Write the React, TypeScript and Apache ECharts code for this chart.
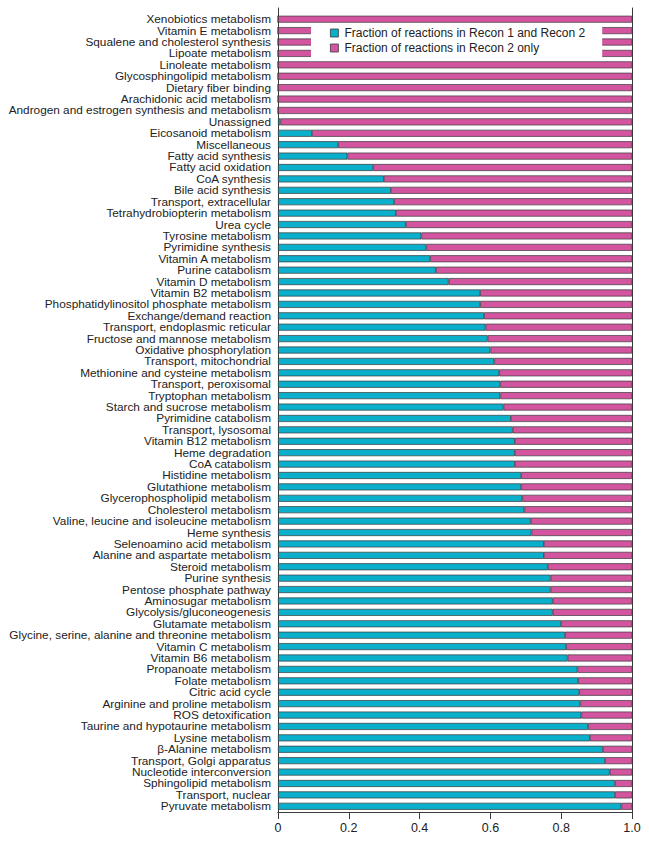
import React, { useEffect, useRef } from "react";
import * as echarts from "echarts";

const categories: string[] = [
  "Xenobiotics metabolism",
  "Vitamin E metabolism",
  "Squalene and cholesterol synthesis",
  "Lipoate metabolism",
  "Linoleate metabolism",
  "Glycosphingolipid metabolism",
  "Dietary fiber binding",
  "Arachidonic acid metabolism",
  "Androgen and estrogen synthesis and metabolism",
  "Unassigned",
  "Eicosanoid metabolism",
  "Miscellaneous",
  "Fatty acid synthesis",
  "Fatty acid oxidation",
  "CoA synthesis",
  "Bile acid synthesis",
  "Transport, extracellular",
  "Tetrahydrobiopterin metabolism",
  "Urea cycle",
  "Tyrosine metabolism",
  "Pyrimidine synthesis",
  "Vitamin A metabolism",
  "Purine catabolism",
  "Vitamin D metabolism",
  "Vitamin B2 metabolism",
  "Phosphatidylinositol phosphate metabolism",
  "Exchange/demand reaction",
  "Transport, endoplasmic reticular",
  "Fructose and mannose metabolism",
  "Oxidative phosphorylation",
  "Transport, mitochondrial",
  "Methionine and cysteine metabolism",
  "Transport, peroxisomal",
  "Tryptophan metabolism",
  "Starch and sucrose metabolism",
  "Pyrimidine catabolism",
  "Transport, lysosomal",
  "Vitamin B12 metabolism",
  "Heme degradation",
  "CoA catabolism",
  "Histidine metabolism",
  "Glutathione metabolism",
  "Glycerophospholipid metabolism",
  "Cholesterol metabolism",
  "Valine, leucine and isoleucine metabolism",
  "Heme synthesis",
  "Selenoamino acid metabolism",
  "Alanine and aspartate metabolism",
  "Steroid metabolism",
  "Purine synthesis",
  "Pentose phosphate pathway",
  "Aminosugar metabolism",
  "Glycolysis/gluconeogenesis",
  "Glutamate metabolism",
  "Glycine, serine, alanine and threonine metabolism",
  "Vitamin C metabolism",
  "Vitamin B6 metabolism",
  "Propanoate metabolism",
  "Folate metabolism",
  "Citric acid cycle",
  "Arginine and proline metabolism",
  "ROS detoxification",
  "Taurine and hypotaurine metabolism",
  "Lysine metabolism",
  "β-Alanine metabolism",
  "Transport, Golgi apparatus",
  "Nucleotide interconversion",
  "Sphingolipid metabolism",
  "Transport, nuclear",
  "Pyruvate metabolism",
];

// Fraction of reactions in Recon 1 and Recon 2
const sharedFraction: number[] = [
  0, 0, 0, 0, 0, 0, 0, 0, 0, 0.007,
  0.096, 0.17, 0.196, 0.269, 0.299, 0.319, 0.328, 0.333, 0.361, 0.405,
  0.419, 0.43, 0.446, 0.482, 0.571, 0.571, 0.582, 0.586, 0.592, 0.6,
  0.611, 0.625, 0.628, 0.628, 0.637, 0.658, 0.663, 0.669, 0.669, 0.669,
  0.687, 0.687, 0.69, 0.696, 0.714, 0.716, 0.751, 0.751, 0.762, 0.77,
  0.77, 0.776, 0.776, 0.8, 0.811, 0.814, 0.818, 0.846, 0.848, 0.851,
  0.854, 0.857, 0.876, 0.881, 0.918, 0.924, 0.937, 0.952, 0.952, 0.97,
];

// Fraction of reactions in Recon 2 only (complement of the shared fraction)
const recon2OnlyFraction: number[] = sharedFraction.map((v) => +(1 - v).toFixed(3));

const xTicks: number[] = [0, 0.2, 0.4, 0.6, 0.8, 1.0];

const seriesNames = [
  "Fraction of reactions in Recon 1 and Recon 2",
  "Fraction of reactions in Recon 2 only",
];

const CYAN = "#0aafcb";
const PINK = "#d4559f";
const EDGE = "#3a3a3a";
const FONT = "Liberation Sans, Arial, Helvetica, sans-serif";

export default function App() {
  const ref = useRef<HTMLDivElement>(null);

  useEffect(() => {
    if (!ref.current) return;
    const chart = echarts.init(ref.current, undefined, { renderer: "svg" });
    const fmt = (v: number) => (v === 0 ? "0" : v.toFixed(1));
    chart.setOption({
      animation: false,
      backgroundColor: "#ffffff",
      textStyle: { fontFamily: FONT },
      grid: [
        { left: 278, width: 354, top: 13.5, height: 798.5 },
        { left: 278, width: 354, top: 8, height: 804 },
      ],
      legend: {
        left: 311,
        top: 23,
        orient: "vertical",
        backgroundColor: "#ffffff",
        padding: [4, 17, 4, 19],
        itemGap: 3,
        itemWidth: 8,
        itemHeight: 8,
        icon: "rect",
        data: seriesNames,
        itemStyle: { borderColor: EDGE, borderWidth: 0.8 },
        textStyle: { fontSize: 12, color: "#222", fontFamily: FONT, padding: [0, 0, 0, 1] },
      },
      xAxis: [
        {
          type: "value",
          gridIndex: 0,
          min: 0,
          max: 1,
          interval: 0.2,
          position: "bottom",
          axisLine: { show: true, lineStyle: { color: EDGE, width: 1 } },
          axisTick: { show: true, length: 6, lineStyle: { color: EDGE } },
          axisLabel: {
            show: true,
            margin: 9,
            fontSize: 12.5,
            color: "#222",
            fontFamily: FONT,
            formatter: fmt,
            customValues: xTicks,
          },
          splitLine: { show: false },
        },
        {
          type: "value",
          gridIndex: 1,
          min: 0,
          max: 1,
          interval: 0.2,
          position: "top",
          axisLine: { show: true, lineStyle: { color: EDGE, width: 1 } },
          axisTick: { show: true, inside: true, length: 7, lineStyle: { color: EDGE } },
          axisLabel: { show: false },
          splitLine: { show: false },
        },
      ],
      yAxis: [
        {
          type: "category",
          gridIndex: 0,
          data: categories,
          inverse: true,
          axisLine: { show: false },
          axisTick: { show: false },
          axisLabel: {
            show: true,
            interval: 0,
            margin: 7,
            fontSize: 11.8,
            lineHeight: 11,
            color: "#222",
            fontFamily: FONT,
          },
          splitLine: { show: false },
        },
        {
          type: "value",
          gridIndex: 1,
          position: "left",
          min: 0,
          max: 1,
          axisLine: { show: true, lineStyle: { color: EDGE, width: 1 } },
          axisTick: { show: false },
          axisLabel: { show: false },
          splitLine: { show: false },
        },
        {
          type: "value",
          gridIndex: 1,
          position: "right",
          min: 0,
          max: 1,
          axisLine: { show: true, lineStyle: { color: EDGE, width: 1 } },
          axisTick: { show: false },
          axisLabel: { show: false },
          splitLine: { show: false },
        },
      ],
      series: [
        {
          name: seriesNames[0],
          type: "bar",
          stack: "total",
          xAxisIndex: 0,
          yAxisIndex: 0,
          barWidth: 7,
          data: sharedFraction,
          itemStyle: { color: CYAN, borderColor: EDGE, borderWidth: 0.7 },
          z: 2,
        },
        {
          name: seriesNames[1],
          type: "bar",
          stack: "total",
          xAxisIndex: 0,
          yAxisIndex: 0,
          barWidth: 7,
          data: recon2OnlyFraction,
          itemStyle: { color: PINK, borderColor: EDGE, borderWidth: 0.7 },
          z: 2,
        },
      ],
    });
    return () => chart.dispose();
  }, []);

  return (
    <div
      ref={ref}
      style={{ position: "fixed", left: 0, top: 0, width: 649, height: 842, background: "#fff" }}
    />
  );
}
